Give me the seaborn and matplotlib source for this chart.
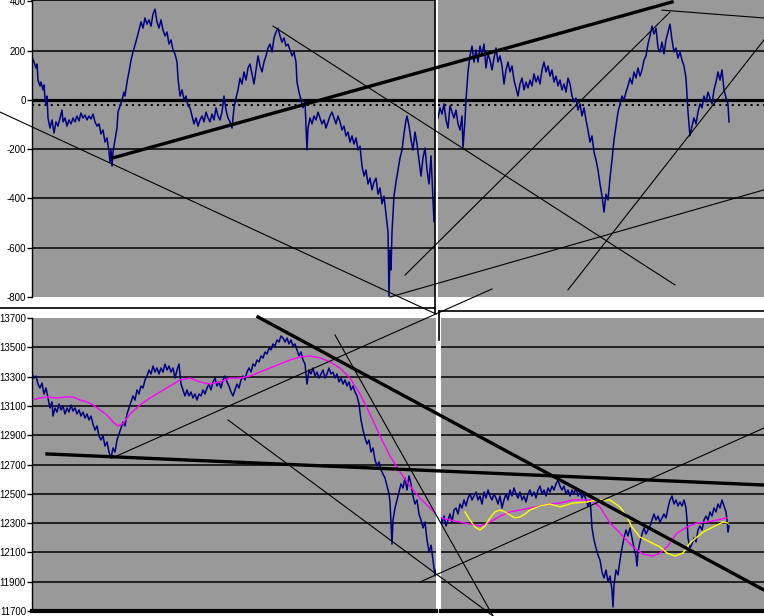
import matplotlib
matplotlib.use("Agg")
import matplotlib.pyplot as plt
import seaborn as sns
import pandas as pd
from matplotlib.lines import Line2D

plt.rcParams['font.family'] = ['Liberation Sans', 'DejaVu Sans']
plt.rcParams['axes.unicode_minus'] = False

# ---------------- data (time index, value) ----------------
spread_left = [(32,175),(34,154),(36,130),(37,146),(38,81),(40,57),(41,73),(43,41),(44,61),(45,8),(46,-16),(47,16),
 (48,-73),(50,-114),(52,-81),(54,-134),(56,-89),(58,-106),(60,-73),(62,-41),(63,-89),(65,-73),(67,-106),(69,-81),
 (71,-97),(73,-73),(75,-89),(77,-65),(79,-85),(81,-53),(83,-73),(85,-61),(87,-81),(89,-65),(91,-77),(93,-57),(95,-89),
 (97,-106),(99,-97),(101,-138),(103,-122),(105,-171),(107,-154),(109,-211),(110,-252),(111,-203),(112,-268),(113,-211),
 (115,-162),(117,-114),(118,-49),(120,-24),(122,0),(124,32),(125,16),(127,73),(129,114),(131,162),(133,195),(135,223),
 (137,252),(139,284),(141,317),(143,292),(145,333),(147,308),(149,325),(151,300),(153,349),(155,369),(157,317),(159,292),
 (161,325),(163,284),(165,260),(167,276),(169,227),(171,244),(173,203),(175,187),(177,154),(178,89),(180,16),(182,41),
 (184,0),(186,16),(188,-24),(190,-32),(192,-65),(194,-97),(196,-73),(198,-106),(200,-81),(202,-65),(204,-89),(206,-49),
 (208,-73),(210,-89),(212,-57),(214,-81),(216,-32),(218,-65),(220,-81),(222,-49),(224,16),(226,-41),(228,-73),(230,-89),
 (232,-114),(234,-32),(236,8),(238,41),(240,89),(242,65),(244,114),(246,81),(248,130),(250,146),(252,106),(254,65),
 (256,122),(258,179),(260,138),(262,114),(264,154),(266,179),(268,211),(270,227),(272,195),(274,252),(276,276),(278,292),
 (280,260),(282,235),(284,252),(286,219),(288,227),(290,203),(292,179),(294,195),(296,154),(297,73),(299,32),(301,0),
 (303,-32),(305,-8),(307,-203),(308,-114),(310,-73),(312,-97),(314,-65),(316,-81),(318,-49),(320,-73),(322,-97),(324,-81),
 (326,-114),(328,-89),(330,-65),(332,-49),(334,-73),(336,-97),(338,-65),(340,-89),(342,-122),(344,-106),(346,-146),
 (348,-130),(350,-171),(352,-146),(354,-179),(356,-154),(358,-203),(360,-187),(362,-268),(364,-309),(366,-284),(368,-341),
 (370,-317),(372,-365),(374,-333),(376,-317),(378,-382),(380,-357),(382,-422),(384,-390),(386,-463),(388,-536),(389,-796),
 (390,-609),(391,-690),(392,-536),(394,-390),(396,-333),(398,-284),(400,-235),(402,-203),(404,-138),(406,-81),(407,-65),
 (409,-106),(411,-162),(413,-203),(415,-130),(417,-179),(419,-244),(421,-309),(423,-235),(425,-195),(427,-284),(429,-341),
 (431,-227),(433,-406),(434,-495),(435,-365)]

spread_right = [(438,-73),(440,-32),(442,-57),(444,-16),(446,-81),(448,-114),(450,-24),(452,-49),(454,-73),(456,-41),
 (458,-97),(460,-122),(462,-65),(463,-195),(465,-81),(466,0),(468,114),(470,179),(472,219),(474,154),(476,203),(478,154),
 (480,219),(482,183),(484,227),(486,130),(488,187),(490,162),(492,122),(494,170),(496,211),(498,154),(500,179),(502,138),
 (504,65),(506,122),(508,154),(510,114),(512,138),(514,81),(516,49),(518,16),(520,65),(522,89),(524,41),(526,73),(528,49),
 (530,81),(532,57),(534,106),(536,73),(538,97),(540,65),(542,122),(544,154),(546,114),(548,138),(550,97),(552,122),
 (554,73),(556,97),(558,57),(560,81),(562,41),(564,65),(566,32),(568,89),(570,65),(572,16),(574,-8),(576,8),(578,-41),
 (580,-16),(582,-65),(584,-32),(586,-81),(588,-122),(590,-171),(592,-146),(594,-211),(596,-244),(598,-284),(600,-341),
 (602,-390),(604,-455),(606,-382),(608,-406),(610,-317),(612,-244),(614,-162),(616,-106),(618,-49),(620,-16),(622,16),
 (624,0),(626,32),(628,57),(630,89),(632,65),(634,114),(636,89),(638,130),(640,97),(642,122),(644,162),(646,179),(648,227),
 (650,260),(652,300),(654,268),(656,292),(658,211),(660,195),(662,235),(664,187),(666,244),(668,276),(670,308),(672,244),
 (674,195),(676,211),(678,170),(680,195),(682,162),(684,138),(686,89),(688,-49),(690,-146),(692,-106),(694,-73),(696,-97),
 (698,-49),(700,-16),(702,-32),(704,16),(706,-8),(708,32),(710,8),(712,-16),(714,41),(716,73),(718,114),(720,81),
 (722,122),(724,41),(726,8),(728,-16),(729,-89)]

price_left = [(32,13318),(34,13290),(36,13304),(38,13249),(40,13222),(42,13256),(44,13181),(46,13222),(48,13154),
 (50,13086),(52,13127),(53,13031),(55,13086),(57,13058),(59,13113),(61,13072),(63,13099),(65,13045),(67,13086),(69,13058),
 (71,13106),(73,13065),(75,13086),(77,13045),(79,13072),(81,13031),(83,13058),(85,13017),(87,13045),(89,13004),(91,13031),
 (93,12976),(95,12935),(97,12963),(99,12895),(101,12867),(103,12895),(105,12826),(107,12854),(109,12785),(111,12744),
 (113,12813),(115,12785),(117,12867),(119,12908),(121,12949),(123,12990),(125,12963),(127,13045),(129,13086),(131,13127),
 (133,13168),(135,13140),(137,13209),(139,13181),(141,13236),(143,13222),(145,13277),(147,13304),(149,13345),(151,13318),
 (153,13372),(155,13331),(157,13359),(159,13318),(161,13359),(163,13331),(165,13386),(167,13345),(169,13372),(171,13331),
 (173,13359),(175,13290),(177,13345),(179,13386),(181,13249),(183,13209),(185,13168),(187,13209),(189,13168),(191,13195),
 (193,13154),(195,13181),(197,13140),(199,13181),(201,13168),(203,13209),(205,13181),(207,13222),(209,13249),(211,13209),
 (213,13263),(215,13290),(217,13236),(219,13263),(221,13222),(223,13277),(225,13304),(227,13263),(229,13236),(231,13195),
 (233,13168),(235,13209),(237,13249),(239,13222),(241,13277),(243,13304),(245,13277),(247,13331),(249,13359),(251,13331),
 (253,13386),(255,13372),(257,13413),(259,13400),(261,13441),(263,13427),(265,13468),(267,13454),(269,13495),(271,13482),
 (273,13523),(275,13509),(277,13550),(279,13536),(281,13577),(283,13563),(285,13536),(287,13563),(289,13523),(291,13550),
 (293,13509),(295,13523),(297,13482),(299,13441),(301,13468),(303,13413),(305,13386),(307,13249),(309,13345),(311,13318),
 (313,13359),(315,13304),(317,13331),(319,13290),(321,13318),(323,13345),(325,13290),(327,13318),(329,13359),(331,13318),
 (333,13331),(335,13290),(337,13318),(339,13263),(341,13290),(343,13249),(345,13277),(347,13236),(349,13263),(351,13209),
 (353,13236),(355,13195),(357,13168),(359,13113),(361,13004),(363,12935),(365,12881),(367,12840),(369,12867),(371,12785),
 (373,12813),(375,12731),(377,12690),(379,12717),(381,12662),(383,12635),(385,12608),(387,12553),(389,12499),(390,12444),
 (392,12157),(393,12321),(395,12403),(397,12458),(399,12512),(401,12567),(403,12540),(405,12608),(407,12526),(409,12622),
 (411,12567),(413,12485),(415,12430),(417,12458),(419,12362),(421,12321),(423,12267),(425,12307),(427,12185),(429,12103),
 (431,12150),(433,12048),(435,11939),(436,11980)]

price_right = [(441,12335),(442,12294),(444,12348),(446,12280),(448,12321),(450,12362),(452,12307),(454,12389),(456,12403),
 (458,12362),(460,12430),(462,12403),(464,12458),(466,12417),(468,12471),(470,12499),(472,12458),(474,12485),(476,12512),
 (478,12458),(480,12485),(482,12430),(484,12512),(486,12471),(488,12526),(490,12485),(492,12458),(494,12499),(496,12471),
 (498,12430),(500,12485),(502,12403),(504,12458),(506,12499),(508,12458),(510,12526),(512,12485),(514,12540),(516,12499),
 (518,12471),(520,12512),(522,12458),(524,12485),(526,12444),(528,12499),(530,12526),(532,12485),(534,12512),(536,12471),
 (538,12526),(540,12553),(542,12499),(544,12526),(546,12485),(548,12540),(550,12512),(552,12553),(554,12526),(556,12567),
 (558,12594),(560,12553),(562,12526),(564,12553),(566,12499),(568,12526),(570,12485),(572,12526),(574,12499),(576,12540),
 (578,12485),(580,12512),(582,12471),(584,12499),(586,12458),(588,12417),(590,12458),(591,12376),(592,12267),(594,12185),
 (596,12130),(598,12082),(600,12048),(602,11966),(604,11925),(606,11980),(608,11898),(610,11939),(612,11843),(613,11727),
 (614,11877),(616,11980),(618,11946),(620,12048),(622,12130),(624,12198),(626,12253),(628,12212),(630,12267),(632,12198),
 (634,12130),(636,12075),(637,12007),(638,12103),(640,12171),(642,12226),(644,12267),(646,12226),(648,12253),(650,12280),
 (652,12321),(654,12362),(656,12321),(658,12348),(660,12307),(662,12335),(664,12362),(666,12335),(668,12403),(670,12458),
 (672,12485),(674,12430),(676,12458),(678,12417),(680,12444),(682,12417),(684,12458),(686,12403),(687,12321),(688,12198),
 (690,12130),(692,12157),(694,12198),(696,12171),(698,12253),(700,12280),(702,12253),(704,12321),(706,12348),(708,12321),
 (710,12376),(712,12348),(714,12403),(716,12376),(718,12430),(720,12403),(722,12458),(724,12417),(726,12376),(727,12321),
 (728,12239),(729,12280)]

ma_long_left = [(32,13140),(40,13154),(47,13161),(57,13154),(65,13161),(73,13161),(80,13140),(87,13127),(93,13106),
 (100,13072),(107,13038),(113,12990),(118,12963),(123,12980),(130,13045),(140,13106),(150,13154),(160,13195),(170,13236),
 (180,13277),(190,13290),(200,13263),(210,13249),(220,13263),(230,13290),(240,13290),(250,13304),(260,13331),(270,13359),
 (280,13386),(290,13413),(300,13434),(310,13441),(320,13427),(330,13400),(340,13359),(350,13290),(360,13181),(370,13045),
 (380,12895),(390,12758),(400,12649),(410,12553),(420,12471),(430,12403),(436,12362)]

ma_long_right = [(441,12335),(450,12321),(460,12307),(470,12294),(480,12280),(490,12307),(500,12348),(510,12376),
 (520,12389),(530,12403),(540,12417),(550,12430),(560,12437),(573,12458),(590,12458),(600,12410),(610,12301),(620,12232),
 (633,12137),(643,12089),(653,12075),(660,12096),(667,12137),(677,12232),(687,12273),(697,12301),(707,12307),(717,12321),
 (727,12335)]

ma_short_right = [(465,12376),(470,12321),(475,12273),(480,12253),(485,12280),(490,12335),(495,12376),(500,12389),
 (505,12376),(510,12355),(515,12335),(520,12342),(525,12362),(530,12389),(540,12417),(550,12430),(560,12410),(573,12437),
 (587,12444),(597,12458),(610,12458),(620,12410),(627,12342),(632,12273),(640,12205),(650,12171),(660,12137),(667,12096),
 (675,12075),(683,12096),(690,12164),(697,12205),(703,12239),(713,12273),(723,12307),(728,12301)]

# trend lines: ((t0, v0), (t1, v1), weight)
top_trends = [((0, -49), (436, -869), 'thin'), ((113, -235), (672, 398), 'thick'),
              ((273, 300), (675, -751), 'thin'), ((405, -711), (670, 357), 'thin'),
              ((568, -771), (764, 244), 'thin'), ((390, -800), (764, -365), 'thin'),
              ((662, 365), (764, 333), 'thin')]
bottom_trends = [((258, 13707), (764, 11843), 'thick'), ((47, 12772), (764, 12560), 'thick'),
                 ((112, 12744), (492, 13898), 'thin'), ((335, 13584), (493, 11666), 'thin'),
                 ((228, 13004), (493, 11666), 'thin'), ((420, 11898), (764, 12949), 'thin')]

top_ticks = [-800, -600, -400, -200, 0, 200, 400]
top_grid = [-600, -400, -200, 200]
bottom_ticks = list(range(11700, 13701, 200))
bottom_grid = list(range(11900, 13501, 200))
top_dotted_level = -20

# ---------------- figure ----------------
W, H = 764, 616
fig = plt.figure(figsize=(W / 100, H / 100), dpi=100, facecolor='white')

def box(x0, y0, x1, y1):
    return [x0 / W, 1 - y1 / H, (x1 - x0) / W, (y1 - y0) / H]

GRAY = '#999999'
NAVY = '#000080'

ax_tl = fig.add_axes(box(32, 0, 435, 297))
ax_tr = fig.add_axes(box(438, 0, 764, 297))
ax_bl = fig.add_axes(box(32, 318, 436, 611))
ax_br = fig.add_axes(box(441, 318, 764, 611))

def series(ax, pts, color, lw):
    df = pd.DataFrame(pts, columns=['t', 'v'])
    sns.lineplot(data=df, x='t', y='v', ax=ax, color=color, linewidth=lw,
                 estimator=None, sort=False, legend=False)

for ax in (ax_tl, ax_tr, ax_bl, ax_br):
    ax.set_facecolor(GRAY)
    for s in ax.spines.values():
        s.set_visible(False)
    ax.set_xticks([])

# top panels
for ax in (ax_tl, ax_tr):
    ax.set_ylim(-800, 406)
    for g in top_grid:
        ax.axhline(g, color='black', lw=1.1, zorder=1)
    ax.axhline(0, color='black', lw=2.3, zorder=1)
    ax.axhline(top_dotted_level, color='black', lw=1.5, dashes=(1, 2), zorder=1)

series(ax_tl, spread_left, NAVY, 1.1)
series(ax_tr, spread_right, NAVY, 1.1)
ax_tl.set_xlim(32, 435)
ax_tr.set_xlim(438, 764)

# bottom panels
for ax in (ax_bl, ax_br):
    ax.set_ylim(11700, 13700)
    for g in bottom_grid:
        ax.axhline(g, color='black', lw=1.1, zorder=1)
    ax.axhline(11700, color='black', lw=3.0, zorder=3, clip_on=False)

series(ax_bl, price_left, NAVY, 1.1)
series(ax_br, price_right, NAVY, 1.1)
series(ax_bl, ma_long_left, '#FF00FF', 1.0)
series(ax_br, ma_long_right, '#FF00FF', 1.0)
series(ax_br, ma_short_right, '#FFFF00', 1.0)
ax_bl.set_xlim(32, 436)
ax_br.set_xlim(441, 764)

for ax in (ax_tl, ax_tr, ax_bl, ax_br):
    ax.set_xlabel('')
    ax.set_ylabel('')

# y axes
ax_tl.set_yticks(top_ticks)
ax_tl.set_yticklabels([str(v) for v in top_ticks])
ax_bl.set_yticks(bottom_ticks)
ax_bl.set_yticklabels([str(v) for v in bottom_ticks])
for ax in (ax_tl, ax_bl):
    ax.spines['left'].set_visible(True)
    ax.spines['left'].set_color('black')
    ax.spines['left'].set_linewidth(1.0)
    ax.tick_params(axis='y', direction='out', length=3.5, width=1, labelsize=7,
                   pad=0.8, colors='black')
ax_tl.spines['top'].set_visible(True)
ax_tl.spines['top'].set_linewidth(1.2)
for ax in (ax_tr, ax_br):
    ax.set_yticks([])

# frame lines of the panels (figure pixel coordinates)
def fline(xs, ys, lw):
    fig.add_artist(Line2D([x / W for x in xs], [1 - y / H for y in ys],
                          transform=fig.transFigure, color='black', lw=lw))

fline([435, 435], [0, 313], 1.2)
fline([0, 435], [308, 308], 1.2)
fline([438.5, 764], [311, 311], 1.2)
fline([438.5, 438.5], [311, 340], 1.2)

# trend lines drawn over everything, in panel data coordinates
for (t0, v0), (t1, v1), w in top_trends:
    fig.add_artist(Line2D([t0, t1], [v0, v1], transform=ax_tl.transData,
                          color='black', lw=2.4 if w == 'thick' else 0.8, zorder=5))
for (t0, v0), (t1, v1), w in bottom_trends:
    fig.add_artist(Line2D([t0, t1], [v0, v1], transform=ax_bl.transData,
                          color='black', lw=2.4 if w == 'thick' else 0.8, zorder=5))

fig.savefig('out.png', dpi=100, facecolor='white')
